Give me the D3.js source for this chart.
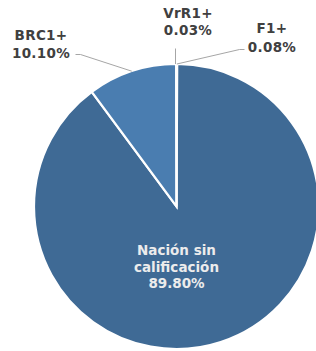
<!DOCTYPE html>
<html>
<head>
<meta charset="utf-8">
<script src="https://cdn.jsdelivr.net/npm/d3@7"></script>
<style>
  html, body { margin: 0; padding: 0; background: #fff; }
  svg text { font-family: "DejaVu Sans", Verdana, sans-serif; font-weight: bold; }
</style>
</head>
<body>
<div id="chart"></div>
<script>
// Data, in drawing order (clockwise from 12 o'clock)
let categories = ["F1+", "Nación sin\ncalificación", "BRC1+", "VrR1+"];
let shares = [0.08, 89.80, 10.10, 0.03];
let colors = ["#8aa9cc", "#3f6a95", "#4a7db0", "#6d93bf"];

let width = 316, height = 351;
let cx = 176.5, cy = 206.5, radius = 142.5;

let svg = d3.select("#chart").append("svg")
    .attr("width", width)
    .attr("height", height);

let g = svg.append("g")
    .attr("transform", "translate(" + cx + "," + cy + ")");

let pie = d3.pie().sort(null).value(function(d) { return d.value; });
let arc = d3.arc().innerRadius(0).outerRadius(radius);

let data = pie(categories.map(function(c, i) {
    return {name: c, value: shares[i], color: colors[i]};
}));

// Slices
g.selectAll(".slice")
    .data(data)
    .enter().append("path")
    .attr("class", "slice")
    .attr("d", arc)
    .style("fill", function(d) { return d.data.color; })
    .style("stroke", "#fff")
    .style("stroke-width", 2.2);

function mid(d) { return (d.startAngle + d.endAngle) / 2; }
function pt(a, r) { return [Math.sin(a) * r, -Math.cos(a) * r]; }

// Label layout: how far the leader goes and where the text sits (relative to center)
let outside = {
    "BRC1+": {elbow: [-96, -152], end: [-101, -152], text: [-135.5, -166.5], gap: 18},
    "VrR1+": {elbow: [-1, -158], end: [-1, -158], text: [11.5, -188.5], gap: 17},
    "F1+":   {elbow: [63, -157], end: [68, -157], text: [95.5, -173.5], gap: 18.5}
};

let pct = d3.format(".2f");

data.forEach(function(d) {
    let name = d.data.name;
    let lab = outside[name];
    if (lab) {
        let p0 = pt(mid(d), radius);
        if (name === "VrR1+") p0 = [lab.elbow[0], -radius];
        g.append("polyline")
            .attr("points", [p0, lab.elbow, lab.end].map(function(p) { return p.join(","); }).join(" "))
            .style("fill", "none")
            .style("stroke", "#a6a6a6")
            .style("stroke-width", 1);
        let t = g.append("text")
            .attr("text-anchor", "middle")
            .style("font-size", "13.5px")
            .style("letter-spacing", "0.3px")
            .style("fill", "#404040");
        t.append("tspan").attr("x", lab.text[0]).attr("y", lab.text[1]).text(name);
        t.append("tspan").attr("x", lab.text[0]).attr("y", lab.text[1] + lab.gap).text(pct(d.data.value) + "%");
    } else {
        let lines = name.split("\n").concat([pct(d.data.value) + "%"]);
        let t = g.append("text")
            .attr("text-anchor", "middle")
            .style("font-size", "13.5px")
            .style("fill", "#ececec");
        lines.forEach(function(l, i) {
            t.append("tspan").attr("x", 0).attr("y", 48.5 + i * 16.5).text(l);
        });
    }
});
</script>
</body>
</html>
